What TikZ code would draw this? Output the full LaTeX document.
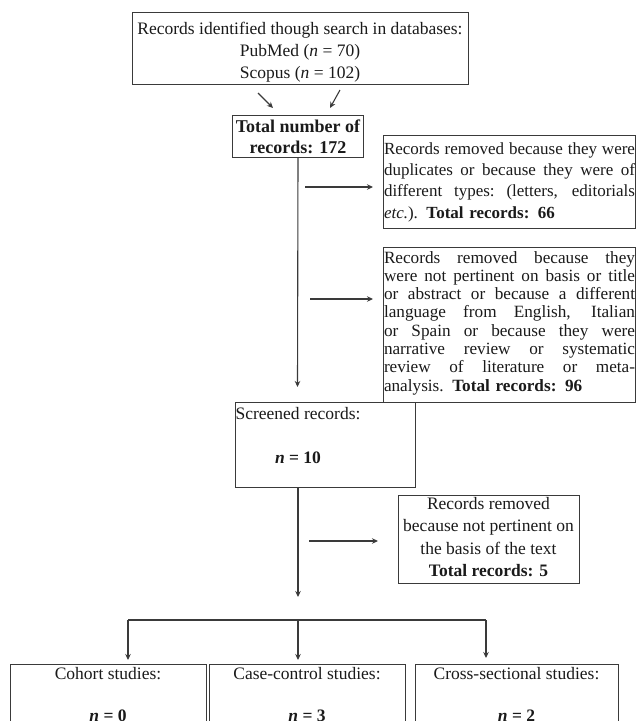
\documentclass[tikz,border=0pt]{standalone}
\usepackage{fontspec}
\setmainfont{Liberation Serif}
\usetikzlibrary{arrows.meta}
\definecolor{linec}{HTML}{3A3A3A}
\definecolor{txtc}{HTML}{1A1A1A}
\tikzset{
  box/.style={draw=linec, line width=1pt, rectangle, inner sep=0pt, anchor=north west},
  txt/.style={inner sep=0pt, text=txtc, font=\fontsize{17.5}{22}\selectfont},
  para/.style={inner sep=0pt, text=txtc, text width=251pt, align=left},
  arr/.style={draw=linec, line width=1.1pt, -{Stealth[length=6pt,width=5.5pt]}},
  ln/.style={draw=linec, line width=1.1pt}
}
\newcommand{\jl}[1]{\leavevmode\hbox to\linewidth{\spaceskip=0.25em plus 4em minus 0.12em\xspaceskip=\spaceskip\relax #1}}
\begin{document}
\begin{tikzpicture}[x=1pt,y=-1pt]
\useasboundingbox (0,0) rectangle (636,721);
\clip (0,0) rectangle (636,721);
% top box
\node[box, minimum width=336pt, minimum height=72pt] (src) at (132,12) {};
\node[txt, align=center] (srct) at (300,52)
  {Records identified though search in databases:\\ PubMed (\textit{n} = 70)\\ Scopus (\textit{n} = 102)};
% total box
\node[box, minimum width=131pt, minimum height=42pt, align=center, text=txtc, font=\bfseries\fontsize{18}{21}\selectfont] (tot) at (232,115)
  {Total number of\\records: 172};
% removed box 1
\node[box, minimum width=252pt, minimum height=93pt] (r1) at (383,135) {};
\node[para, font=\fontsize{17}{21.3}\selectfont] (r1t) at (509.5,182) {%
\jl{Records removed because they were}\\
\jl{duplicates or because they were of}\\
\jl{different types: (letters, editorials}\\
\textit{etc.}). \textbf{Total records: 66}};
% removed box 2
\node[box, minimum width=252pt, minimum height=155pt] (r2) at (383,247) {};
\node[para, font=\fontsize{17.2}{18.3}\selectfont] (r2t) at (509.5,323) {%
\jl{Records removed because they}\\
\jl{were not pertinent on basis or title}\\
\jl{or abstract or because a different}\\
\jl{language from English, Italian}\\
\jl{or Spain or because they were}\\
\jl{narrative review or systematic}\\
\jl{review of literature or meta-}\\
analysis. \textbf{Total records: 96}};
% screened box
\node[box, minimum width=180pt, minimum height=85pt] (scr) at (235,402) {};
\node[txt, anchor=mid] (scr1) at (298,417) {Screened records:};
\node[txt, anchor=mid, font=\bfseries\fontsize{17.5}{22}\selectfont] (scr2) at (298,461) {\textit{n} = 10};
% removed box 3
\node[box, minimum width=181pt, minimum height=88pt] (r3) at (398,495) {};
\node[txt, align=center, font=\fontsize{17.5}{22.3}\selectfont] (r3t) at (488.5,537) {Records removed\\because not pertinent on\\the basis of the text\\\textbf{Total records: 5}};
% bottom boxes
\node[box, minimum width=196pt, minimum height=80pt] (ca) at (10,664) {};
\node[box, minimum width=196pt, minimum height=80pt] (cb) at (209,664) {};
\node[box, minimum width=203pt, minimum height=80pt] (cc) at (415,664) {};
\node[txt, anchor=mid] (ca1) at (108,677) {Cohort studies:};
\node[txt, anchor=mid, font=\bfseries\fontsize{17.5}{22}\selectfont] (ca2) at (108,719) {\textit{n} = 0};
\node[txt, anchor=mid] (cb1) at (307,677) {Case-control studies:};
\node[txt, anchor=mid, font=\bfseries\fontsize{17.5}{22}\selectfont] (cb2) at (307,719) {\textit{n} = 3};
\node[txt, anchor=mid] (cc1) at (516.5,677) {Cross-sectional studies:};
\node[txt, anchor=mid, font=\bfseries\fontsize{17.5}{22}\selectfont] (cc2) at (516.5,719) {\textit{n} = 2};
% coordinates
\coordinate (a1s) at (258,93);  \coordinate (a1e) at (273,108);
\coordinate (a2s) at (340,90);  \coordinate (a2e) at (330,108);
\coordinate (m1) at (297.5,387);
\coordinate (h1s) at (305,187); \coordinate (h1e) at (373,187);
\coordinate (h2s) at (310,299); \coordinate (h2e) at (373,299);
\coordinate (s0) at (298,487);  \coordinate (m2) at (298,597);
\coordinate (h3s) at (309,541); \coordinate (h3e) at (378,541);
\coordinate (b0) at (298,620);  \coordinate (bl) at (128,620); \coordinate (br) at (486,620);
\coordinate (e0) at (298,660);  \coordinate (el) at (128,660); \coordinate (er) at (486,658);
% connectors
\draw[arr] (a1s) -- (a1e);
\draw[arr] (a2s) -- (a2e);
\draw[arr] (tot.south) -- (m1);
\draw[arr] (h1s) -- (h1e);
\draw[arr] (h2s) -- (h2e);
\draw[arr] (s0) -- (m2);
\draw[arr] (h3s) -- (h3e);
\draw[ln] (bl) -- (br);
\draw[arr] (b0) -- (e0);
\draw[arr] (bl) -- (el);
\draw[arr] (br) -- (er);
\end{tikzpicture}
\end{document}
